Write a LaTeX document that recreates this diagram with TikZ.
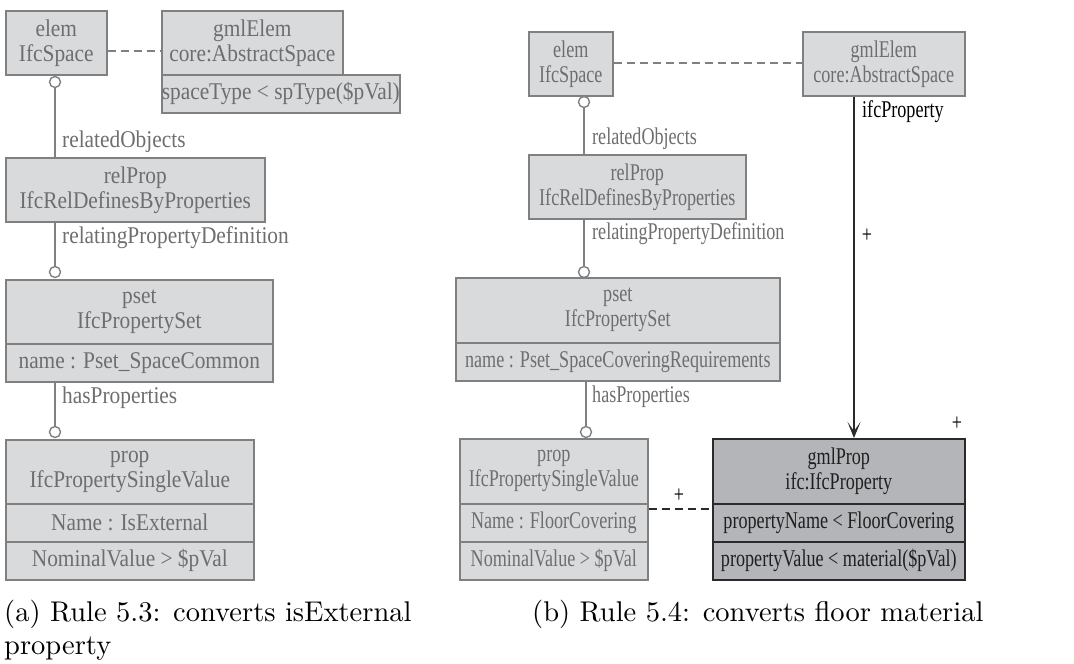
\documentclass[tikz,border=0pt]{standalone}
\usepackage{fontspec}
\usetikzlibrary{arrows.meta}
% Times-metric serif for the class boxes, condensed differently per panel
\newfontfamily\serifL[FakeStretch=0.89]{Liberation Serif}
\newfontfamily\serifR[FakeStretch=0.755]{Liberation Serif}
% Caption face (10pt design size of Latin Modern)
\newfontfamily\capfont{lmroman10-regular}[Extension=.otf]
\definecolor{boxfill}{HTML}{D9DADB}
\definecolor{boxline}{HTML}{808080}
\definecolor{txtgray}{HTML}{6E6E6E}
\definecolor{darkfill}{HTML}{B4B5B8}
\definecolor{darkline}{HTML}{2A2A2A}
\begin{document}
\begin{tikzpicture}[x=1pt,y=-1pt,
  umlbox/.style={draw=boxline, fill=boxfill, line width=1.6pt, inner sep=0pt,
    anchor=north west, text=txtgray, align=center},
  darkbox/.style={umlbox, draw=darkline, fill=darkfill, text=black!88},
  fL/.style={font=\serifL\fontsize{24}{25}\selectfont},
  fR/.style={font=\serifR\fontsize{24}{25}\selectfont},
  lbl/.style={anchor=base west, inner sep=0pt, text=txtgray},
  ring/.style={circle, draw=boxline, fill=white, line width=1.4pt, minimum size=11pt, inner sep=0pt},
  link/.style={draw=boxline, line width=1.6pt},
  dashlink/.style={draw=boxline, line width=1.6pt, dash pattern=on 8pt off 5pt},
  darkdash/.style={draw=darkline, line width=1.6pt, dash pattern=on 8pt off 5pt},
  navlink/.style={draw=darkline, line width=1.8pt, -{Stealth[length=16pt,width=13pt,inset=9pt]}},
  plussign/.style={inner sep=0pt, text=black},
  caption/.style={anchor=base west, inner sep=0pt, font=\capfont\fontsize{28.5}{33}\selectfont}
]
\useasboundingbox (0,0) rectangle (1074,664);

% ---------------- panel (a) ----------------
\begin{scope}[fL]
\node[umlbox, minimum width=101, minimum height=64] (elemL) at (5,10) {elem\\IfcSpace};
\node[umlbox, minimum width=181, minimum height=64] (gmlElemL) at (161,10) {gmlElem\\core:AbstractSpace};
\node[umlbox, minimum width=181, minimum height=38] (gmlElemLa) at (161,74) {spaceType < spType(\$pVal)};
\node[umlbox, minimum width=259, minimum height=64] (relPropL) at (5,157) {relProp\\IfcRelDefinesByProperties};
\node[umlbox, minimum width=267, minimum height=64] (psetL) at (5,279) {pset\\IfcPropertySet};
\node[umlbox, minimum width=267, minimum height=38] (psetLa) at (5,343) {name : Pset\_SpaceCommon};
\node[umlbox, minimum width=248, minimum height=64] (propL) at (5,439) {prop\\IfcPropertySingleValue};
\node[umlbox, minimum width=248, minimum height=38] (propLa) at (5,503) {Name : IsExternal};
\node[umlbox, minimum width=248, minimum height=38] (propLb) at (5,541) {NominalValue > \$pVal};

\coordinate (dashL) at (0,51);
\draw[dashlink] (elemL.east |- dashL) -- (gmlElemL.west |- dashL);

\node[ring] (r1L) at (55,82) {};
\node[ring] (r2L) at (55,272) {};
\node[ring] (r3L) at (55,432) {};
\draw[link] (elemL.south -| r1L) -- (r1L.north);
\draw[link] (r1L.south) -- (relPropL.north -| r1L);
\draw[link] (relPropL.south -| r2L) -- (r2L.north);
\draw[link] (psetLa.south -| r3L) -- (r3L.north);

\node[lbl] (lblRelObjL) at (62,147) {relatedObjects};
\node[lbl] (lblRelDefL) at (62,243) {relatingPropertyDefinition};
\node[lbl] (lblHasPropL) at (62,403) {hasProperties};
\end{scope}

% ---------------- panel (b) ----------------
\begin{scope}[fR]
\node[umlbox, minimum width=84, minimum height=64] (elemR) at (528,31) {elem\\IfcSpace};
\node[umlbox, minimum width=162, minimum height=64] (gmlElemR) at (802,31) {gmlElem\\core:AbstractSpace};
\node[umlbox, minimum width=217, minimum height=64] (relPropR) at (528,154) {relProp\\IfcRelDefinesByProperties};
\node[umlbox, minimum width=324, minimum height=65] (psetR) at (455,277) {pset\\IfcPropertySet};
\node[umlbox, minimum width=324, minimum height=38] (psetRa) at (455,342) {name : Pset\_SpaceCoveringRequirements};
\node[umlbox, minimum width=188, minimum height=65] (propR) at (459,438) {prop\\IfcPropertySingleValue};
\node[umlbox, minimum width=188, minimum height=38] (propRa) at (459,503) {Name : FloorCovering};
\node[umlbox, minimum width=188, minimum height=38] (propRb) at (459,541) {NominalValue > \$pVal};
\node[darkbox, minimum width=252, minimum height=65] (gmlPropR) at (712,438) {gmlProp\\ifc:IfcProperty};
\node[darkbox, minimum width=252, minimum height=38] (gmlPropRa) at (712,503) {propertyName < FloorCovering};
\node[darkbox, minimum width=252, minimum height=38] (gmlPropRb) at (712,541) {propertyValue < material(\$pVal)};

\coordinate (dashR) at (0,63);
\draw[dashlink] (elemR.east |- dashR) -- (gmlElemR.west |- dashR);

\node[ring] (r1R) at (584,102) {};
\node[ring] (r2R) at (584,272) {};
\node[ring] (r3R) at (586,432) {};
\draw[link] (elemR.south -| r1R) -- (r1R.north);
\draw[link] (r1R.south) -- (relPropR.north -| r1R);
\draw[link] (relPropR.south -| r2R) -- (r2R.north);
\draw[link] (psetRa.south -| r3R) -- (r3R.north);

\node[lbl] (lblRelObjR) at (592,144) {relatedObjects};
\node[lbl] (lblRelDefR) at (592,239) {relatingPropertyDefinition};
\node[lbl] (lblHasPropR) at (592,402) {hasProperties};

% navigation from the target space to the generated property
\coordinate (navX) at (854,0);
\draw[navlink] (gmlElemR.south -| navX) -- (gmlPropR.north -| navX);
\node[lbl, text=black] (lblIfcProp) at (862,117) {ifcProperty};
\node[plussign] (plusNav) at (867,236) {+};
\node[plussign] (plusProp) at (957,424) {+};

% trace link between source and generated property
\coordinate (dashP) at (0,509);
\draw[darkdash] (propRa.east |- dashP) -- (gmlPropRa.west |- dashP);
\node[plussign] (plusTrace) at (679,496) {+};
\end{scope}

% ---------------- captions ----------------
\node[caption] (capA1) at (4,621) {(a) Rule 5.3: converts isExternal};
\node[caption] (capA2) at (4,654) {property};
\node[caption] (capB) at (532,621) {(b) Rule 5.4: converts floor material};
\end{tikzpicture}
\end{document}
